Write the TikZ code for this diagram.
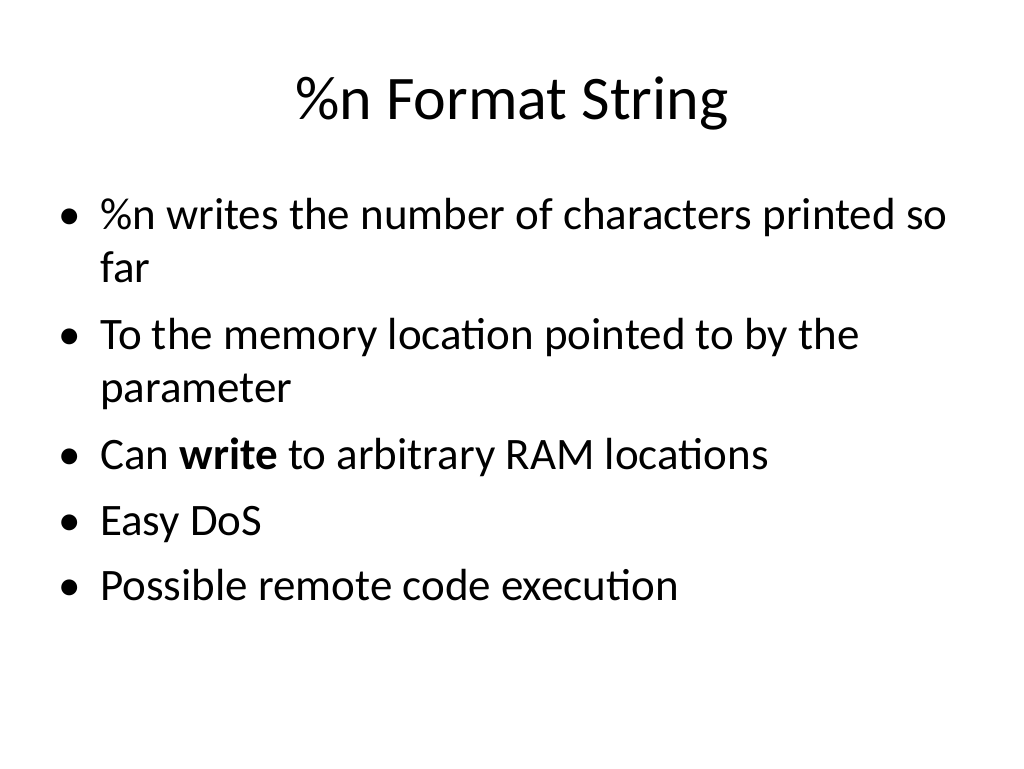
\documentclass[tikz,border=0pt]{standalone}
\usepackage{fontspec}
\setmainfont{Carlito}
\begin{document}
\begin{tikzpicture}[x=1pt,y=1pt,
  txt/.style={anchor=base west,inner sep=0pt,font=\fontsize{45}{54}\selectfont},
  bul/.style={anchor=base west,inner sep=0pt,font=\fontsize{45}{54}\selectfont}]
\useasboundingbox[fill=white] (0,0) rectangle (1024,-768);
\node[anchor=base,inner sep=0pt,font=\fontsize{62}{70}\selectfont] (title) at (512,-119) {\%n Format String};
\node[bul] (b1) at (58,-229) {\textbullet};
\node[txt] (t1) at (100,-229) {\%n writes the number of characters printed so};
\node[txt] (t1b) at (100,-282) {far};
\node[bul] (b2) at (58,-349) {\textbullet};
\node[txt] (t2) at (100,-349) {To the memory location pointed to by the};
\node[txt] (t2b) at (100,-402) {parameter};
\node[bul] (b3) at (58,-469) {\textbullet};
\node[txt] (t3) at (100,-469) {Can \textbf{write} to arbitrary RAM locations};
\node[bul] (b4) at (58,-535) {\textbullet};
\node[txt] (t4) at (100,-535) {Easy DoS};
\node[bul] (b5) at (58,-600) {\textbullet};
\node[txt] (t5) at (100,-600) {Possible remote code execution};
\end{tikzpicture}
\end{document}
